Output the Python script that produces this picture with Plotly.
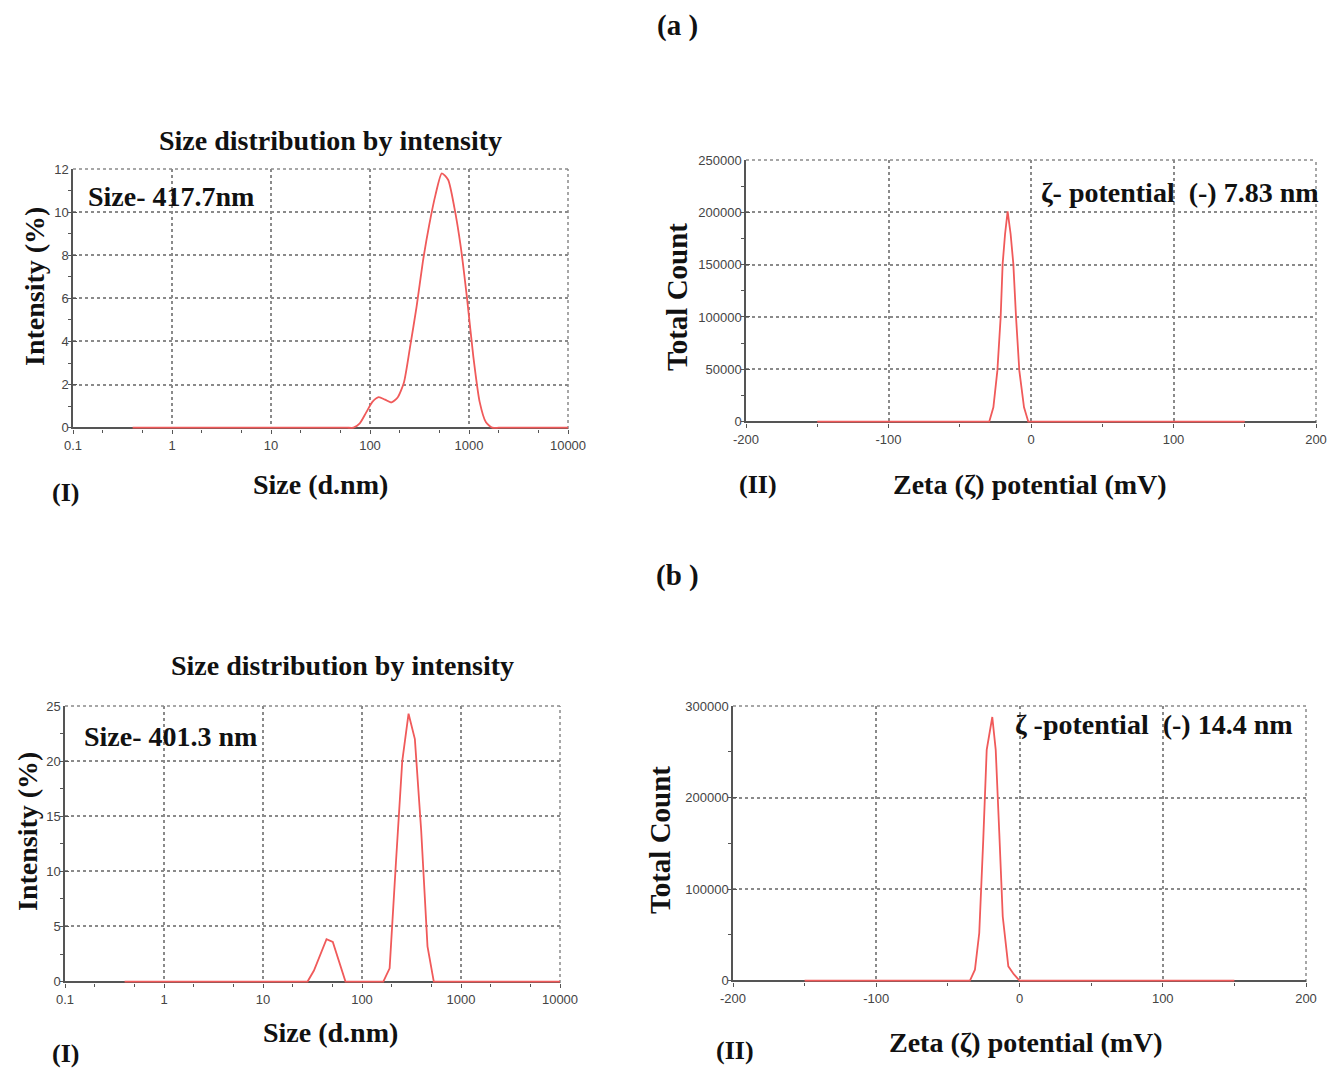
import plotly.graph_objects as go

W, H = 1335, 1068

# ---------------- data ----------------
# (a) size distribution by intensity
size_a = [0.4, 10, 50, 58.8, 68.1, 78.8, 91.3, 105.7, 122.4, 141.8, 164.2, 190.1, 220.2, 255.0, 295.3,
          342.0, 396.1, 458.7, 531.2, 615.1, 712.4, 825.0, 955.4, 1106, 1281, 1484, 1718, 1990, 2305, 10000]
int_a = [0, 0, 0, 0, 0, 0.2, 0.7, 1.2, 1.42, 1.3, 1.17, 1.4, 2.1, 3.8, 5.6,
         7.7, 9.4, 10.8, 11.8, 11.5, 10.2, 8.4, 6.0, 3.3, 1.2, 0.25, 0, 0, 0, 0]

# (a) zeta potential
zeta_a = [-150, -29.3, -26.4, -23.6, -21.3, -19.9, -18.2, -16.4, -14.3, -12.4, -10.5, -8.2, -4.9, -1.9, 150]
count_a = [0, 0, 13700, 48700, 99700, 150700, 179300, 201000, 179300, 150700, 99700, 48700, 13700, 0, 0]

# (b) size distribution by intensity
size_b = [0.4, 28.2, 32.7, 37.8, 43.8, 50.7, 58.8, 68.1, 164.2, 190.1, 220.2, 255.0, 295.3,
          342.0, 396.1, 458.7, 531.2, 10000]
int_b = [0, 0, 1.0, 2.5, 3.85, 3.6, 1.8, 0, 0, 1.2, 10.8, 20.0, 24.3,
         22.0, 13.7, 3.2, 0, 0]

# (b) zeta potential
zeta_b = [-150, -34.6, -31.1, -28.1, -25.3, -22.9, -19.0, -16.6, -14.1, -11.7, -7.8, -4.0, 0, 150]
count_b = [0, 0, 12000, 52000, 154000, 252000, 288000, 252000, 161000, 70000, 15600, 7000, 0, 0]

log_tickvals = [0.1, 1, 10, 100, 1000, 10000]
log_ticktext = ["0.1", "1", "10", "100", "1000", "10000"]
zeta_tickvals = [-200, -100, 0, 100, 200]
zeta_ticktext = ["-200", "-100", "0", "100", "200"]

# ---------------- helpers ----------------
def px(x):
    return x / W

def py(y):
    return 1 - y / H

LINE = "#F05A5A"
AXC = "#555555"
GRID = "#8a8a8a"
TICKFONT = dict(family="Liberation Sans Narrow, Arial Narrow, Liberation Sans, sans-serif", size=13, color="#444")
SERIF = "Liberation Serif, Times New Roman, serif"

fig = go.Figure()

panels = [
    # (x0,x1,ytop,ybottom) in pixels
    (73, 568, 169, 429),
    (746, 1316, 160, 423),
    (65, 560, 706, 983),
    (733, 1306, 706, 982),
]

series = [(size_a, int_a), (zeta_a, count_a), (size_b, int_b), (zeta_b, count_b)]
for i, (xs, ys) in enumerate(series):
    n = "" if i == 0 else str(i + 1)
    line = dict(color=LINE, width=1.8, shape="spline", smoothing=0.6) if i == 0 else dict(color=LINE, width=1.8)
    fig.add_trace(go.Scatter(x=xs, y=ys, mode="lines", xaxis="x" + n, yaxis="y" + n,
                             line=line, showlegend=False, hoverinfo="skip", cliponaxis=False))

common = dict(showline=True, linecolor=AXC, linewidth=1.5, showgrid=True, gridcolor=GRID,
              griddash="dot", gridwidth=1.5, zeroline=False, ticks="outside", ticklen=4,
              tickcolor=AXC, tickfont=TICKFONT, mirror=False, automargin=False,
              layer="below traces")

layout = {}
for i, (x0, x1, yt, yb) in enumerate(panels):
    n = "" if i == 0 else str(i + 1)
    xa = dict(common, domain=[px(x0), px(x1)], anchor="y" + n, showline=False)
    ya = dict(common, domain=[py(yb), py(yt)], anchor="x" + n, ticks="inside", ticklen=4,
              zeroline=True, zerolinecolor=AXC, zerolinewidth=1.5)
    if i in (0, 2):
        xa.update(type="log", range=[-1, 4], tickvals=log_tickvals, ticktext=log_ticktext,
                  minor=dict(ticks="outside", ticklen=3, tickcolor=AXC, showgrid=False))
    else:
        xa.update(range=[-200, 200], tickvals=zeta_tickvals, ticktext=zeta_ticktext,
                  minor=dict(ticks="outside", ticklen=3, tickcolor=AXC, dtick=50, showgrid=False))
    if i == 0:
        ya.update(range=[-0.06, 12], tick0=0, dtick=2,
                  minor=dict(ticks="outside", ticklen=3, tick0=0, dtick=1, tickcolor=AXC))
    elif i == 1:
        ya.update(range=[-1300, 250000], tick0=0, dtick=50000, tickformat="d",
                  minor=dict(ticks="outside", ticklen=3, tick0=0, dtick=25000, tickcolor=AXC))
    elif i == 2:
        ya.update(range=[-0.13, 25], tick0=0, dtick=5,
                  minor=dict(ticks="outside", ticklen=3, tick0=0, dtick=2.5, tickcolor=AXC))
    else:
        ya.update(range=[-1500, 300000], tick0=0, dtick=100000, tickformat="d",
                  minor=dict(ticks="outside", ticklen=3, tick0=0, dtick=50000, tickcolor=AXC))
    layout["xaxis" + n] = xa
    layout["yaxis" + n] = ya

fig.update_layout(**layout)

# dotted border on top and right (as in reference)
for i, (x0, x1, yt, yb) in enumerate(panels):
    fig.add_shape(type="line", xref="paper", yref="paper", x0=px(x0), x1=px(x1), y0=py(yt), y1=py(yt),
                  line=dict(color=GRID, width=1.5, dash="dot"), layer="below")
    fig.add_shape(type="line", xref="paper", yref="paper", x0=px(x1), x1=px(x1), y0=py(yb), y1=py(yt),
                  line=dict(color=GRID, width=1.5, dash="dot"), layer="below")

def text(t, x, y, size=28, angle=0, xanchor="center"):
    fig.add_annotation(text="<b>" + t + "</b>", x=px(x), y=py(y), xref="paper", yref="paper",
                       showarrow=False, xanchor=xanchor, yanchor="middle", textangle=angle,
                       font=dict(family=SERIF, size=size, color="#111"))

text("(a )", 677, 25, 29)
text("(b )", 677, 575, 29)

# panel a-I
text("Size distribution by intensity", 330, 140, 28)
text("Size- 417.7nm", 86, 197, 28, xanchor="left")
text("Intensity (%)", 34, 287, 28, angle=-90)
text("Size (d.nm)", 320, 484, 28)
text("(I)", 65, 492, 26)

# panel a-II
text("ζ- potential&nbsp;&nbsp;(-) 7.83 nm", 1321, 192, 28, xanchor="right")
text("Total Count", 677, 297, 29, angle=-90)
text("Zeta (ζ) potential (mV)", 1030, 485, 28)
text("(II)", 758, 484, 26)

# panel b-I
text("Size distribution by intensity", 342, 665, 28)
text("Size- 401.3 nm", 82, 736, 28, xanchor="left")
text("Intensity (%)", 27, 832, 28, angle=-90)
text("Size (d.nm)", 330, 1032, 28)
text("(I)", 65, 1053, 26)

# panel b-II
text("ζ -potential&nbsp;&nbsp;(-) 14.4 nm", 1295, 724, 28, xanchor="right")
text("Total Count", 660, 840, 29, angle=-90)
text("Zeta (ζ) potential (mV)", 1026, 1042, 28)
text("(II)", 735, 1050, 26)

fig.update_layout(width=W, height=H, margin=dict(l=0, r=0, t=0, b=0),
                  paper_bgcolor="white", plot_bgcolor="white")

fig.write_html("out.html")
